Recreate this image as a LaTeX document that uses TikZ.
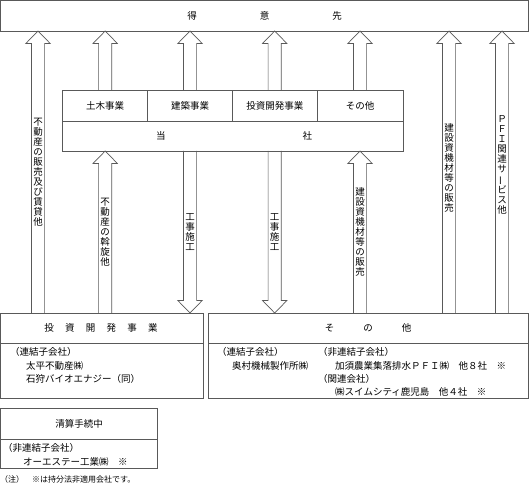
\documentclass[tikz,border=0pt]{standalone}
\usepackage{fontspec}
\usepackage{graphicx}
\setmainfont{Noto Sans CJK JP}
\newcommand\vbar{\rotatebox[origin=c]{90}{ー}}
\newcommand\UpArr[3]{% x, y bottom, y tip
  \draw[arr] (#1-6.6,#2) -- (#1-6.6,#3+12.5) -- (#1-12.2,#3+12.5) -- (#1,#3)
     -- (#1+12.2,#3+12.5) -- (#1+6.6,#3+12.5) -- (#1+6.6,#2);}
\newcommand\DnArr[3]{% x, y top, y tip
  \draw[arr] (#1-6.6,#2) -- (#1-6.6,#3-12.5) -- (#1-12.2,#3-12.5) -- (#1,#3)
     -- (#1+12.2,#3-12.5) -- (#1+6.6,#3-12.5) -- (#1+6.6,#2);}
\begin{document}
\begin{tikzpicture}[x=1pt,y=-1pt,
  line/.style={draw=black!65,line width=0.7pt},
  arr/.style={draw=black!65,line width=0.7pt,line join=miter},
  txt/.style={inner sep=0pt,font=\fontsize{9.5}{10}\selectfont,text=black},
  vlab/.style={txt,align=center},
  lt/.style={txt,anchor=west}]
\useasboundingbox (0,0) rectangle (530,486);
% boxes
\draw[line] (0.5,0.5) rectangle (528,31);
\node[txt] (tokui) at (264.5,15.5) {得\hspace{63pt}意\hspace{63pt}先};
\draw[line] (62.3,90.5) rectangle (403,151);
\draw[line] (62.3,121) -- (403,121);
\draw[line] (147.7,90.5) -- (147.7,121);
\draw[line] (232.3,90.5) -- (232.3,121);
\draw[line] (317.3,90.5) -- (317.3,121);
\node[txt] (c1) at (105,106) {土木事業};
\node[txt] (c2) at (190,106) {建築事業};
\node[txt] (c3) at (274.8,106) {投資開発事業};
\node[txt] (c4) at (360,106) {その他};
\node[txt] (toa) at (234,136) {当\hspace{137pt}社};
% investment box
\draw[line] (0.5,313) rectangle (203,398);
\draw[line] (0.5,343) -- (203,343);
\node[txt] (inv) at (101,328) {投\hspace{11.3pt}資\hspace{11.3pt}開\hspace{11.3pt}発\hspace{11.3pt}事\hspace{11.3pt}業};
\node[lt] (i1) at (10,352) {（連結子会社）};
\node[lt] (i2) at (26,365.5) {太平不動産㈱};
\node[lt] (i3) at (26,379) {石狩バイオエナジー（同）};
% other box
\draw[line] (208.3,313) rectangle (528,398);
\draw[line] (208.3,343) -- (528,343);
\node[txt] (oth) at (368,328) {そ\hspace{29pt}の\hspace{29pt}他};
\node[lt] (o1) at (217,352) {（連結子会社）};
\node[lt] (o2) at (232,365.5) {奥村機械製作所㈱};
\node[lt] (o3) at (318,352) {（非連結子会社）};
\node[lt] (o4) at (335,365.5) {加須農業集落排水ＰＦＩ㈱　他８社　※};
\node[lt] (o5) at (318,378.5) {（関連会社）};
\node[lt] (o6) at (335,391.5) {㈱スイムシティ鹿児島　他４社　※};
% liquidation box
\draw[line] (0.5,408) rectangle (157,468.5);
\draw[line] (0.5,439) -- (157,439);
\node[txt] (liq) at (79,424) {清算手続中};
\node[lt] (l1) at (3,448) {（非連結子会社）};
\node[lt] (l2) at (23,461.5) {オーエステー工業㈱　※};
\node[lt,font=\fontsize{8}{9}\selectfont] (note) at (0,479.5) {（注）　※は持分法非適用会社です。};
% arrows to customers
\UpArr{38}{313}{31}
\UpArr{105.2}{90.5}{31}
\UpArr{190}{90.5}{31}
\UpArr{274.7}{90.5}{31}
\UpArr{360}{90.5}{31}
\UpArr{449}{313}{31}
\UpArr{502}{313}{31}
% lower arrows
\UpArr{105.2}{313}{151}
\DnArr{190}{151}{313}
\DnArr{274.7}{151}{313}
\UpArr{360}{313}{151}
% vertical labels
\node[vlab] (v1) at (38,172) {不\\動\\産\\の\\販\\売\\及\\び\\賃\\貸\\他};
\node[vlab] (v2) at (105.2,232) {不\\動\\産\\の\\斡\\旋\\他};
\node[vlab] (v3) at (190,232) {工\\事\\施\\工};
\node[vlab] (v4) at (274.7,232) {工\\事\\施\\工};
\node[vlab] (v5) at (360,232) {建\\設\\資\\機\\材\\等\\の\\販\\売};
\node[vlab] (v6) at (449,168) {建\\設\\資\\機\\材\\等\\の\\販\\売};
\node[vlab] (v7) at (502,165) {Ｐ\\Ｆ\\Ｉ\\関\\連\\サ\\\vbar\\ビ\\ス\\他};
\end{tikzpicture}
\end{document}
